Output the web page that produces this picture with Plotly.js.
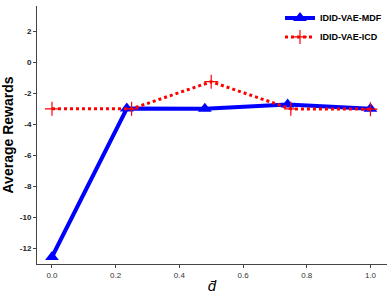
<!DOCTYPE html>
<html><head><script src="https://cdn.plot.ly/plotly-3.0.1.min.js"></script>
<style>body{margin:0}#c{width:390px;height:294px}</style></head>
<body><div id="c"></div>
<script>
const mdfX = [0, 0.235, 0.48, 0.74, 1.0];
const mdfY = [-12.55, -2.98, -3.0, -2.72, -3.0];
const icdX = [0, 0.25, 0.5, 0.75, 1.0];
const icdY = [-3.0, -3.0, -1.25, -3.0, -3.02];
const yTicks = [2, 0, -2, -4, -6, -8, -10, -12];
const xTicks = [0, 0.2, 0.4, 0.6, 0.8, 1.0];
const traces = [
  {x: mdfX, y: mdfY, name: 'IDID-VAE-MDF', mode: 'lines+markers',
   line: {color: '#0000ff', width: 4}, marker: {symbol: 'triangle-up', size: 12, color: '#0000ff'}},
  {x: icdX, y: icdY, name: 'IDID-VAE-ICD', mode: 'lines+markers',
   line: {color: '#ff0000', width: 3, dash: 'dot'}, marker: {symbol: 'cross-thin', size: 10, line: {color: '#ff0000', width: 1.2}, color: '#ff0000'}}
];
const layout = {
  width: 390, height: 294,
  margin: {l: 37, r: 3, t: 3, b: 30},
  paper_bgcolor: '#fff', plot_bgcolor: '#fff',
  font: {family: 'Liberation Sans, Arial, sans-serif', color: '#000'},
  showlegend: true,
  legend: {x: 1, y: 1.01, xanchor: 'right', yanchor: 'top', font: {size: 9, family: 'Liberation Sans, Arial', weight: 'bold'}, bgcolor: 'rgba(0,0,0,0)', tracegroupgap: 0, itemwidth: 30},
  xaxis: {range: [-0.047, 1.052], tickvals: xTicks, ticktext: xTicks.map(v => v.toFixed(1)),
    showgrid: false, zeroline: false, showline: true, linecolor: '#444', linewidth: 1,
    ticks: 'outside', ticklen: 3, tickcolor: '#444', tickfont: {size: 8, color: '#333'},
    title: {text: '<i>d̄</i>', font: {size: 15}, standoff: 1}},
  yaxis: {range: [-13.0, 3.63], tickvals: yTicks, ticktext: yTicks.map(String),
    showgrid: false, zeroline: false, showline: true, linecolor: '#444', linewidth: 1,
    ticks: 'outside', ticklen: 3, tickcolor: '#444', tickfont: {size: 8, color: '#222', weight: 'bold'},
    title: {text: '<b>Average Rewards</b>', font: {size: 14}, standoff: 4}}
};
Plotly.newPlot('c', traces, layout, {displayModeBar: false});
</script></body></html>
